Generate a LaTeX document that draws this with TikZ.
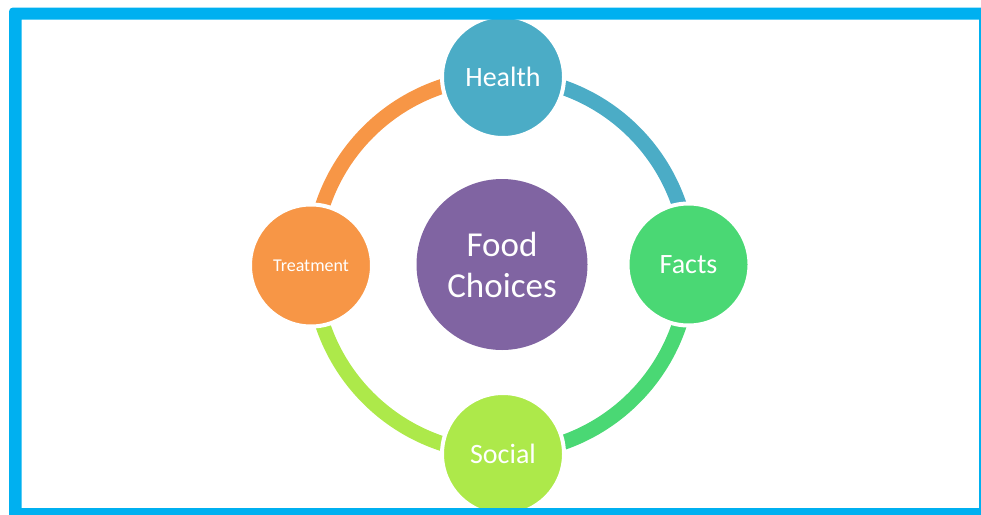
\documentclass[tikz,border=0pt]{standalone}
\usepackage{fontspec}
\setmainfont{Carlito}
\definecolor{framecol}{HTML}{00B0F0}
\definecolor{healthcol}{HTML}{4BACC6}
\definecolor{factscol}{HTML}{4AD874}
\definecolor{socialcol}{HTML}{ADE94A}
\definecolor{treatcol}{HTML}{F79646}
\definecolor{foodcol}{HTML}{8064A2}
\begin{document}
\begin{tikzpicture}[x=1pt,y=-1pt,
  topic/.style={circle, fill=#1, draw=white, line width=4pt, minimum size=122pt,
    inner sep=0pt, text=white, font=\fontsize{28}{34}\selectfont},
  ringarc/.style={draw=#1, line width=15pt},
  hub/.style={circle, fill=foodcol, minimum size=171pt, inner sep=0pt, text=white,
    align=center, font=\fontsize{35}{41}\selectfont}]
\useasboundingbox (0,0) rectangle (981,514);
\clip (0,0) rectangle (981,514);

% ring of four arcs, each in the colour of the topic it leaves
\coordinate (ring) at (501,265);
\draw[ringarc=healthcol] ([shift={(270:188)}]ring) arc[start angle=270, end angle=360, radius=188];
\draw[ringarc=factscol]  ([shift={(0:188)}]ring)   arc[start angle=0,   end angle=90,  radius=188];
\draw[ringarc=socialcol] ([shift={(90:188)}]ring)  arc[start angle=90,  end angle=180, radius=188];
\draw[ringarc=treatcol]  ([shift={(180:188)}]ring) arc[start angle=180, end angle=270, radius=188];

% topics around the ring
\node[topic=healthcol] (health) at (503,77) {Health};
\node[topic=factscol]  (facts)  at (688.5,264.5) {Facts};
\node[topic=socialcol] (social) at (503,454) {Social};
\node[topic=treatcol, font=\fontsize{18}{22}\selectfont] (treatment) at (311,265.5) {Treatment};

% central hub
\node[hub] (food) at (502,264.5) {Food\\Choices};

% outer frame
\fill[framecol, even odd rule]
  [rounded corners=4pt] (9,7.5) rectangle (991,522)
  [sharp corners] (21.5,19.5) rectangle (979,508);
\end{tikzpicture}
\end{document}
